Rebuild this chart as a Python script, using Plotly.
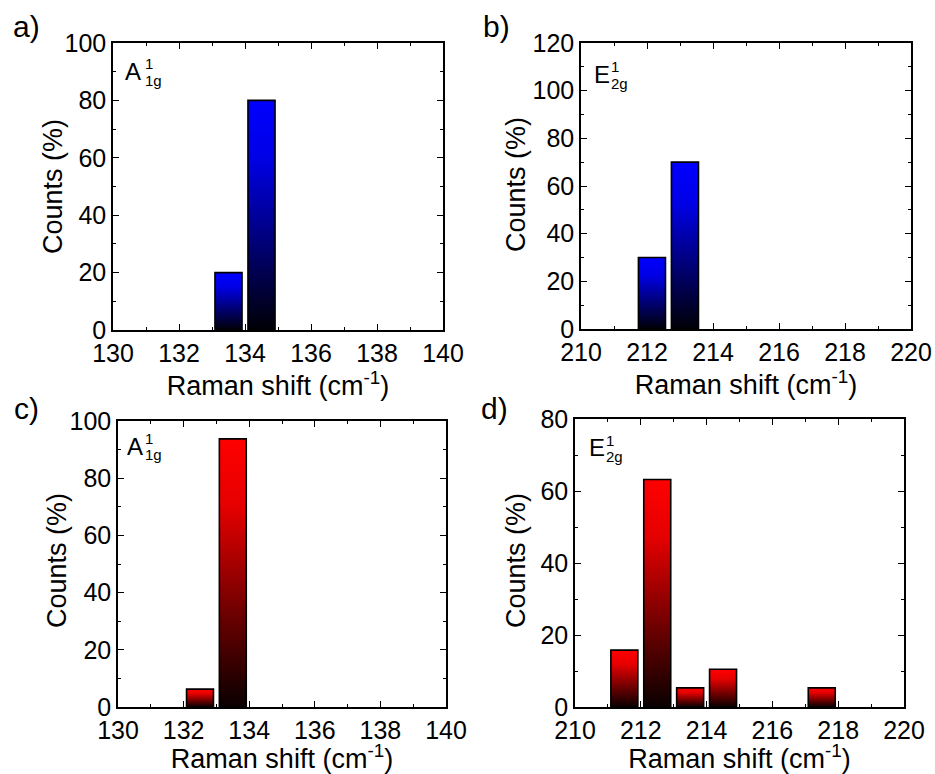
import plotly.graph_objects as go

W, H = 935, 774

# ---------------- data ----------------
a_centers = [133.5, 134.5]
a_counts = [20, 80]
b_centers = [212.15, 213.15]
b_counts = [30, 70]
c_centers = [132.5, 133.5]
c_counts = [6.25, 93.75]
d_centers = [211.5, 212.5, 213.5, 214.5, 217.5]
d_counts = [15.8, 63.2, 5.3, 10.5, 5.3]
bar_width = 0.82

x_title = "Raman shift (cm<sup>-1</sup>)"
y_title = "Counts (%)"

BLUE_SCALE = [[0, "#000006"], [0.35, "#00006E"], [0.75, "#0000E6"], [1, "#0000FF"]]
RED_SCALE = [[0, "#0A0000"], [0.35, "#6E0000"], [0.75, "#E60000"], [1, "#FF0000"]]

FONT = "Liberation Sans, Arial, sans-serif"


def px(x):
    return x / W


def py(y):
    return 1 - y / H


fig = go.Figure()

panels = [
    (a_centers, a_counts, BLUE_SCALE, ""),
    (b_centers, b_counts, BLUE_SCALE, "2"),
    (c_centers, c_counts, RED_SCALE, "3"),
    (d_centers, d_counts, RED_SCALE, "4"),
]

for centers, counts, scale, suf in panels:
    for c, h in zip(centers, counts):
        x0, x1 = c - bar_width / 2, c + bar_width / 2
        fig.add_trace(go.Scatter(
            x=[x0, x0, x1, x1, x0], y=[0, h, h, 0, 0],
            mode="lines", fill="toself",
            fillgradient=dict(type="vertical", colorscale=scale),
            line=dict(color="black", width=1.6),
            xaxis="x" + suf, yaxis="y" + suf,
            showlegend=False, hoverinfo="skip",
        ))

domains = {
    "": ([113, 443], [43, 330]),
    "2": ([581, 911], [43, 329]),
    "3": ([118, 446], [421, 707]),
    "4": ([575, 904], [419, 707]),
}
xranges = {"": [130, 140], "2": [210, 220], "3": [130, 140], "4": [210, 220]}
yranges = {"": [0, 100], "2": [0, 120], "3": [0, 100], "4": [0, 80]}
xstand = {"": 10, "2": 10, "3": 9, "4": 18}
ytitle_pos = {"": (53, 187), "2": (516, 185), "3": (57, 561), "4": (516, 561)}

tickfont = dict(family=FONT, size=25, color="black")
titlefont = dict(family=FONT, size=27, color="black")

axis_common = dict(
    showline=True, linecolor="black", linewidth=1.5, mirror="ticks",
    ticks="inside", ticklen=6, tickwidth=1.3, tickcolor="black",
    showgrid=False, zeroline=False, tickfont=tickfont, automargin=False,
    minor=dict(ticks="inside", ticklen=3.5, tickwidth=1.2, tickcolor="black", showgrid=False),
)

layout = dict(
    width=W, height=H, margin=dict(l=0, r=0, t=0, b=0, autoexpand=False),
    paper_bgcolor="white", plot_bgcolor="white",
    showlegend=False,
)

for suf in ["", "2", "3", "4"]:
    (xl, xr), (yt, yb) = domains[suf]
    xa = dict(axis_common)
    xa.update(domain=[px(xl), px(xr)], range=xranges[suf], dtick=2,
              anchor="y" + suf,
              title=dict(text=x_title, font=titlefont, standoff=xstand[suf]))
    xa["minor"] = dict(axis_common["minor"], dtick=1)
    ya = dict(axis_common)
    ya.update(domain=[py(yb), py(yt)], range=yranges[suf], dtick=20,
              anchor="x" + suf)
    ya["minor"] = dict(axis_common["minor"], dtick=10)
    layout["xaxis" + suf] = xa
    layout["yaxis" + suf] = ya

fig.update_layout(**layout)

# y-axis titles
for suf, (tx, ty) in ytitle_pos.items():
    fig.add_annotation(text=y_title, x=px(tx), y=py(ty), xref="paper", yref="paper",
                       showarrow=False, textangle=-90, xanchor="center", yanchor="middle",
                       font=titlefont)

# panel letters
for lab, x, y in [("a)", 26, 26), ("b)", 497, 26), ("c)", 26, 408), ("d)", 494, 408)]:
    fig.add_annotation(text=lab, x=px(x), y=py(y), xref="paper", yref="paper",
                       showarrow=False, xanchor="center", yanchor="middle",
                       font=dict(family=FONT, size=30, color="black"))

# mode labels (main letter + stacked superscript / subscript)
labels = [
    ("A", "1", "1g", 123, 72, 143),
    ("E", "1", "2g", 592, 75, 609),
    ("A", "1", "1g", 125, 446, 143),
    ("E", "1", "2g", 587, 448, 604),
]
for main, sup, sub, x, ymid, xs in labels:
    fig.add_annotation(text=main, x=px(x), y=py(ymid), xref="paper", yref="paper",
                       showarrow=False, xanchor="left", yanchor="middle",
                       font=dict(family=FONT, size=24, color="black"))
    fig.add_annotation(text=sup, x=px(xs), y=py(ymid - 8), xref="paper", yref="paper",
                       showarrow=False, xanchor="left", yanchor="middle",
                       font=dict(family=FONT, size=15, color="black"))
    fig.add_annotation(text=sub, x=px(xs), y=py(ymid + 8), xref="paper", yref="paper",
                       showarrow=False, xanchor="left", yanchor="middle",
                       font=dict(family=FONT, size=15, color="black"))

fig.write_html("out.html")
